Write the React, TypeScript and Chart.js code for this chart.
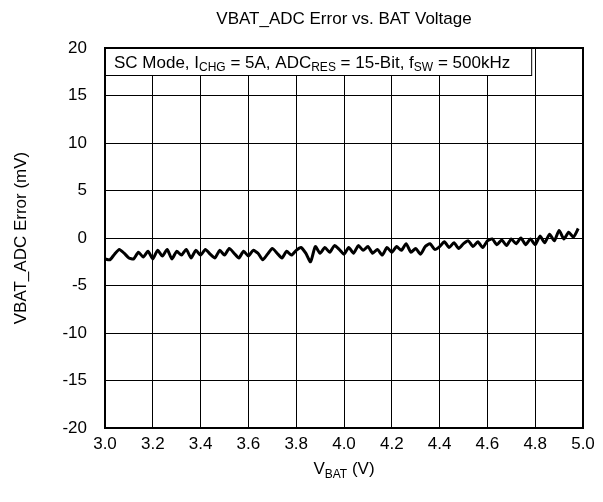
import React, { useEffect, useRef } from "react";
import { Chart, registerables } from "chart.js";

Chart.register(...registerables);

const vbat: number[] = [
  3.0, 3.02, 3.04, 3.06, 3.08, 3.1, 3.12, 3.14, 3.16, 3.18,
  3.2, 3.22, 3.24, 3.26, 3.28, 3.3, 3.32, 3.34, 3.36, 3.38,
  3.4, 3.42, 3.44, 3.46, 3.48, 3.5, 3.52, 3.54, 3.56, 3.58,
  3.6, 3.62, 3.64, 3.66, 3.68, 3.7, 3.72, 3.74, 3.76, 3.78,
  3.8, 3.82, 3.84, 3.86, 3.88, 3.9, 3.92, 3.94, 3.96, 3.98,
  4.0, 4.02, 4.04, 4.06, 4.08, 4.1, 4.12, 4.14, 4.16, 4.18,
  4.2, 4.22, 4.24, 4.26, 4.28, 4.3, 4.32, 4.34, 4.36, 4.38,
  4.4, 4.42, 4.44, 4.46, 4.48, 4.5, 4.52, 4.54, 4.56, 4.58,
  4.6, 4.62, 4.64, 4.66, 4.68, 4.7, 4.72, 4.74, 4.76, 4.78,
  4.8, 4.82, 4.84, 4.86, 4.88, 4.9, 4.92, 4.94, 4.96, 4.98,
];

const errorMv: number[] = [
  -2.2, -2.3, -1.7, -1.2, -1.6, -2.1, -2.2, -1.5, -2.0, -1.4,
  -2.2, -1.3, -1.9, -1.2, -2.2, -1.4, -1.8, -1.2, -2.1, -1.3,
  -1.8, -1.2, -1.7, -2.1, -1.3, -1.8, -1.1, -1.6, -2.1, -1.4,
  -1.9, -1.3, -1.6, -2.3, -1.7, -1.1, -1.6, -2.1, -1.4, -1.8,
  -1.3, -1.0, -1.6, -2.5, -0.9, -1.6, -1.0, -1.5, -0.8, -1.2,
  -1.7, -1.0, -1.6, -0.8, -1.3, -0.9, -1.6, -1.2, -1.8, -1.0,
  -1.5, -0.9, -1.3, -0.6, -1.5, -1.1, -1.7, -0.9, -0.6, -1.2,
  -0.9, -0.4, -1.0, -0.5, -1.1, -0.6, -0.3, -0.9, -0.4, -1.0,
  -0.3, -0.1, -0.7, -0.2, -0.8, -0.1, -0.6, 0.0, -0.7, -0.1,
  -0.7, 0.2, -0.5, 0.4, -0.3, 0.8, -0.1, 0.6, 0.1, 1.0,
];

const titleText = "VBAT_ADC Error vs. BAT Voltage";
const yTitle = "VBAT_ADC Error (mV)";
const FONT = "'Liberation Sans', Arial, sans-serif";

type Seg = [string, boolean];
const annotation: Seg[] = [
  ["SC Mode, I", false], ["CHG", true], [" = 5A, ADC", false], ["RES", true],
  [" = 15-Bit, f", false], ["SW", true], [" = 500kHz", false],
];
const xTitle: Seg[] = [["V", false], ["BAT", true], [" (V)", false]];

function segWidth(ctx: CanvasRenderingContext2D, segs: Seg[], size: number, subSize: number) {
  let w = 0;
  for (const [t, sub] of segs) {
    ctx.font = `${sub ? subSize : size}px ${FONT}`;
    w += ctx.measureText(t).width;
  }
  return w;
}
function drawSegs(ctx: CanvasRenderingContext2D, segs: Seg[], x: number, y: number, size: number, subSize: number, subDrop: number) {
  let cx = x;
  ctx.textAlign = "left";
  ctx.textBaseline = "alphabetic";
  for (const [t, sub] of segs) {
    ctx.font = `${sub ? subSize : size}px ${FONT}`;
    ctx.fillText(t, cx, sub ? y + subDrop : y);
    cx += ctx.measureText(t).width;
  }
}

const decor = {
  id: "decor",
  afterDraw(chart: any) {
    const ctx: CanvasRenderingContext2D = chart.ctx;
    const a = chart.chartArea;
    ctx.save();
    ctx.fillStyle = "#000";
    ctx.font = `17px ${FONT}`;
    ctx.textAlign = "center";
    ctx.textBaseline = "alphabetic";
    ctx.fillText(titleText, (a.left + a.right) / 2, 24);
    ctx.save();
    ctx.translate(26, (a.top + a.bottom) / 2);
    ctx.rotate(-Math.PI / 2);
    ctx.font = `17px ${FONT}`;
    ctx.textAlign = "center";
    ctx.fillText(yTitle, 0, 0);
    ctx.restore();
    const w = segWidth(ctx, xTitle, 17, 12);
    drawSegs(ctx, xTitle, (a.left + a.right) / 2 - w / 2, 474, 17, 12, 4);
    const aw = segWidth(ctx, annotation, 17, 12);
    const bx = a.left, by = a.top, bw = aw + 30, bh = 27;
    ctx.fillStyle = "#fff";
    ctx.fillRect(bx, by, bw, bh);
    ctx.strokeStyle = "#000";
    ctx.lineWidth = 1;
    ctx.strokeRect(bx + 0.5, by + 0.5, bw, bh);
    ctx.fillStyle = "#000";
    drawSegs(ctx, annotation, bx + 9, by + 20, 17, 12, 3);
    ctx.lineWidth = 2;
    ctx.strokeRect(a.left, a.top, a.right - a.left, a.bottom - a.top);
    ctx.restore();
  },
};

export default function App() {
  const ref = useRef<HTMLCanvasElement>(null);
  useEffect(() => {
    document.body.style.margin = "0";
    const chart = new Chart(ref.current!, {
      type: "line",
      data: {
        datasets: [
          {
            data: vbat.map((x, i) => ({ x, y: errorMv[i] })),
            borderColor: "#000",
            borderWidth: 3,
            pointRadius: 0,
            tension: 0.2,
            fill: false,
          },
        ],
      },
      options: {
        responsive: false,
        animation: false,
        layout: { padding: { top: 48, right: 20, left: 0, bottom: 0 } },
        plugins: { legend: { display: false }, tooltip: { enabled: false }, title: { display: false } },
        scales: {
          x: {
            type: "linear",
            min: 3,
            max: 5,
            afterFit: (s: any) => { s.height = 74; },
            ticks: {
              stepSize: 0.2,
              color: "#000",
              font: { family: FONT, size: 17 },
              padding: 6,
              maxRotation: 0,
              callback: (v: any) => Number(v).toFixed(1),
            },
            grid: { color: "#000", lineWidth: 1, drawTicks: false },
            border: { display: false },
          },
          y: {
            min: -20,
            max: 20,
            afterFit: (s: any) => { s.width = 105; },
            ticks: {
              stepSize: 5,
              color: "#000",
              font: { family: FONT, size: 17 },
              padding: 18,
            },
            grid: { color: "#000", lineWidth: 1, drawTicks: false },
            border: { display: false },
          },
        },
      },
      plugins: [decor],
    });
    return () => chart.destroy();
  }, []);
  return <canvas ref={ref} width={603} height={502} style={{ display: "block" }} />;
}
